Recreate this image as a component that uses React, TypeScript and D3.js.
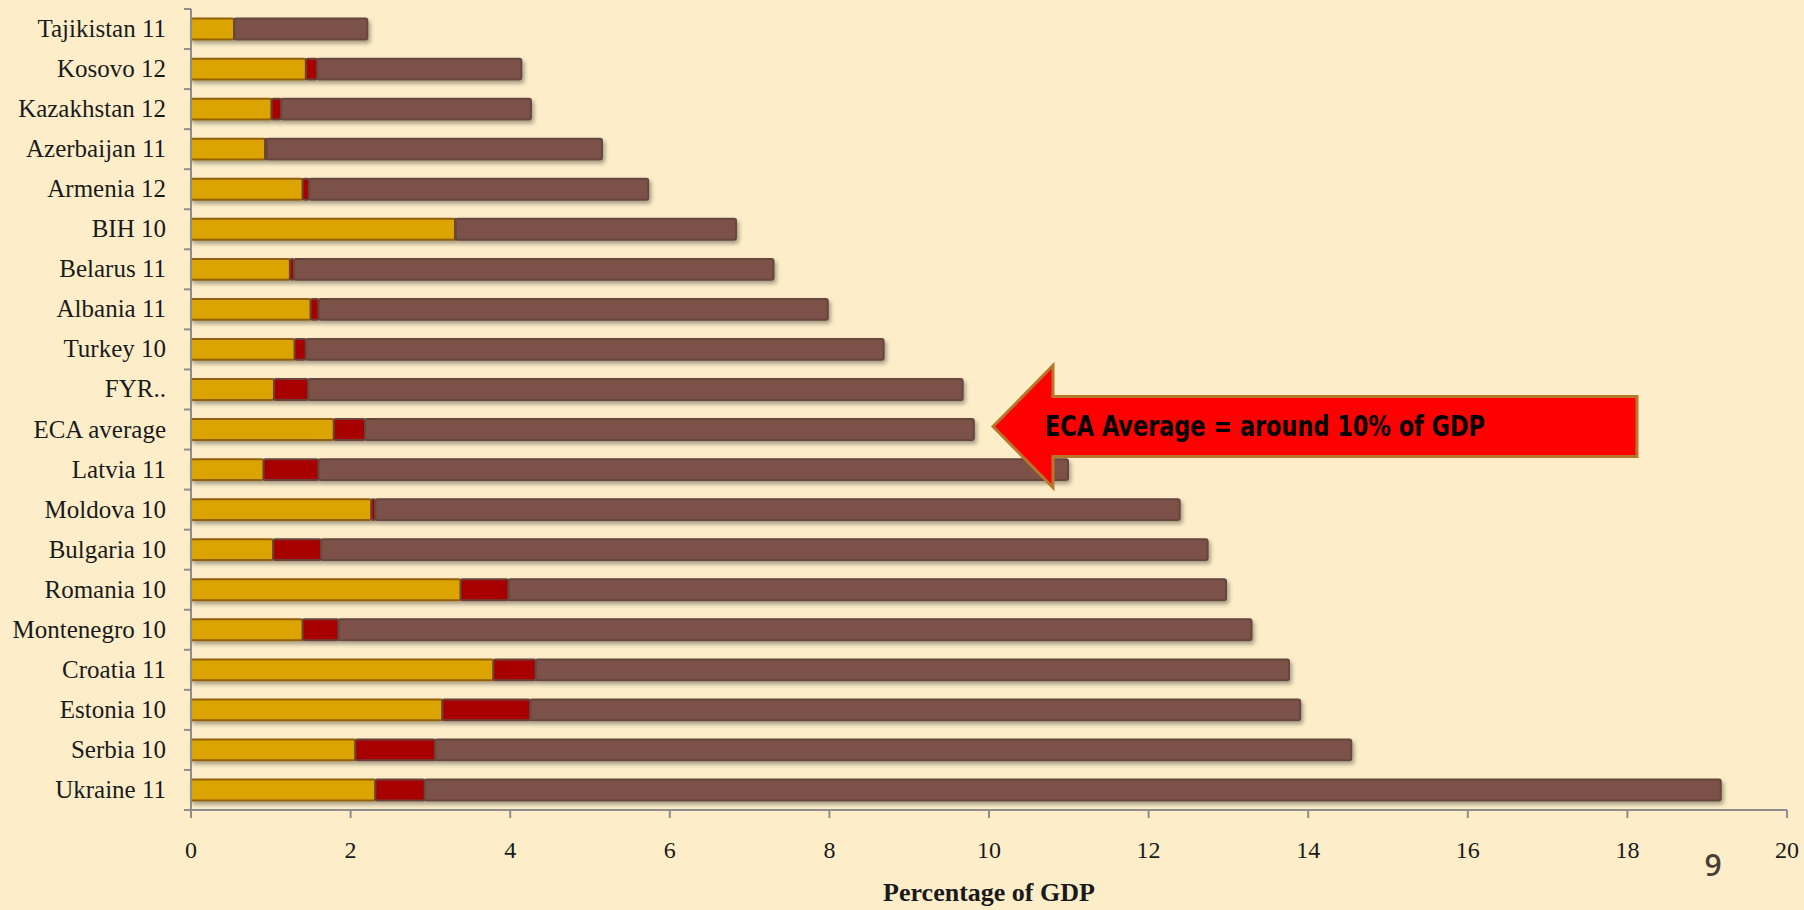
import * as d3 from "d3";

const categories = [
  "Tajikistan 11", "Kosovo 12", "Kazakhstan 12", "Azerbaijan 11", "Armenia 12",
  "BIH 10", "Belarus 11", "Albania 11", "Turkey 10", "FYR..",
  "ECA average", "Latvia 11", "Moldova 10", "Bulgaria 10", "Romania 10",
  "Montenegro 10", "Croatia 11", "Estonia 10", "Serbia 10", "Ukraine 11",
];
// three stacked parts, % of GDP
const yellowVals = [0.54, 1.44, 1.01, 0.93, 1.4, 3.31, 1.24, 1.5, 1.3, 1.04, 1.79, 0.91, 2.26, 1.03, 3.38, 1.4, 3.79, 3.15, 2.06, 2.31];
const redVals = [0, 0.14, 0.12, 0.02, 0.08, 0.01, 0.05, 0.1, 0.14, 0.43, 0.39, 0.69, 0.05, 0.6, 0.6, 0.45, 0.53, 1.1, 1.0, 0.62];
const brownVals = [1.67, 2.56, 3.13, 4.2, 4.25, 3.51, 6.01, 6.38, 7.24, 8.2, 7.63, 9.39, 10.08, 11.11, 8.99, 11.44, 9.44, 9.65, 11.48, 16.24];
const xTicks = [0, 2, 4, 6, 8, 10, 12, 14, 16, 18, 20];

const W = 1804;
const H = 910;
const serif = "'Liberation Serif', 'Times New Roman', serif";

const parts = [
  { vals: yellowVals, fill: "#DBA400", stroke: "#93600C" },
  { vals: redVals, fill: "#A80000", stroke: "#6A4038" },
  { vals: brownVals, fill: "#7C5147", stroke: "#65463E" },
];

export default function App() {
  const x = d3.scaleLinear().domain([0, 20]).range([191, 1787]);
  const y = d3.scaleBand<string>().domain(categories).range([9, 810]).paddingInner(0.48).paddingOuter(0.24);
  const bw = y.bandwidth();
  const bandEdges = d3.range(categories.length + 1).map((i) => 9 + i * y.step());

  const rows = categories.map((c, i) => {
    let acc = 0;
    const segs = parts.map((p) => {
      const x0 = acc;
      acc += p.vals[i];
      return { x0, x1: acc, fill: p.fill, stroke: p.stroke };
    }).filter((s) => s.x1 - s.x0 > 0);
    return { c, segs };
  });

  // annotation arrow pointing at the ECA average
  const cy = (y("ECA average") ?? 0) + bw / 2 - 3;
  const tipX = x(10.05);
  const headX = tipX + 60;
  const rightX = x(18.12);
  const arrow = [
    [tipX, cy], [headX, cy - 61], [headX, cy - 30], [rightX, cy - 30],
    [rightX, cy + 30], [headX, cy + 30], [headX, cy + 61],
  ].map((p) => p.join(",")).join(" ");

  return (
    <svg width={W} height={H} style={{ position: "fixed", left: 0, top: 0 }}>
      <defs>
        <filter id="shadow" x="-5%" y="-40%" width="110%" height="200%">
          <feDropShadow dx="2" dy="3" stdDeviation="2" floodColor="#000" floodOpacity="0.35" />
        </filter>
      </defs>
      <rect width={W} height={H} fill="#FDEEC9" />

      {rows.map((r) => (
        <g key={r.c} filter="url(#shadow)">
          {r.segs.map((s, j) => (
            <rect key={j} x={x(s.x0)} y={y(r.c)} width={Math.max(x(s.x1) - x(s.x0), 1)} height={bw}
              rx={2} fill={s.fill} stroke={s.stroke} strokeWidth={2} />
          ))}
        </g>
      ))}

      {/* category axis */}
      <line x1={191} x2={191} y1={9} y2={810} stroke="#8E8E8E" strokeWidth={2} />
      {bandEdges.map((e, i) => (
        <line key={i} x1={184} x2={191} y1={e} y2={e} stroke="#8E8E8E" strokeWidth={2} />
      ))}
      {categories.map((c) => (
        <text key={c} x={166} y={(y(c) ?? 0) + bw / 2 + 8} textAnchor="end" fontFamily={serif}
          fontSize={25} fill="#1A1A1A">{c}</text>
      ))}

      {/* value axis */}
      <line x1={x(0)} x2={x(20)} y1={810} y2={810} stroke="#8E8E8E" strokeWidth={2} />
      {xTicks.map((t) => (
        <g key={t}>
          <line x1={x(t)} x2={x(t)} y1={810} y2={818} stroke="#8E8E8E" strokeWidth={2} />
          <text x={x(t)} y={858} textAnchor="middle" fontFamily={serif} fontSize={24} fill="#1A1A1A">{t}</text>
        </g>
      ))}
      <text x={989} y={901} textAnchor="middle" fontFamily={serif} fontWeight="bold" fontSize={26} fill="#1A1A1A">
        Percentage of GDP
      </text>

      <polygon points={arrow} fill="#FF0000" stroke="#B5772A" strokeWidth={3} strokeLinejoin="miter" />
      <text x={1045} y={cy + 9} fontFamily="'Liberation Sans Narrow', 'DejaVu Sans Condensed', sans-serif"
        fontWeight="bold" fontSize={28} fill="#000" textLength={440} lengthAdjust="spacingAndGlyphs">
        ECA Average = around 10% of GDP
      </text>

      <text x={1713} y={876} textAnchor="middle" fontFamily="'Open Sans', sans-serif" fontWeight={600} fontSize={30}
        fill="#4A3D38">9</text>
    </svg>
  );
}
